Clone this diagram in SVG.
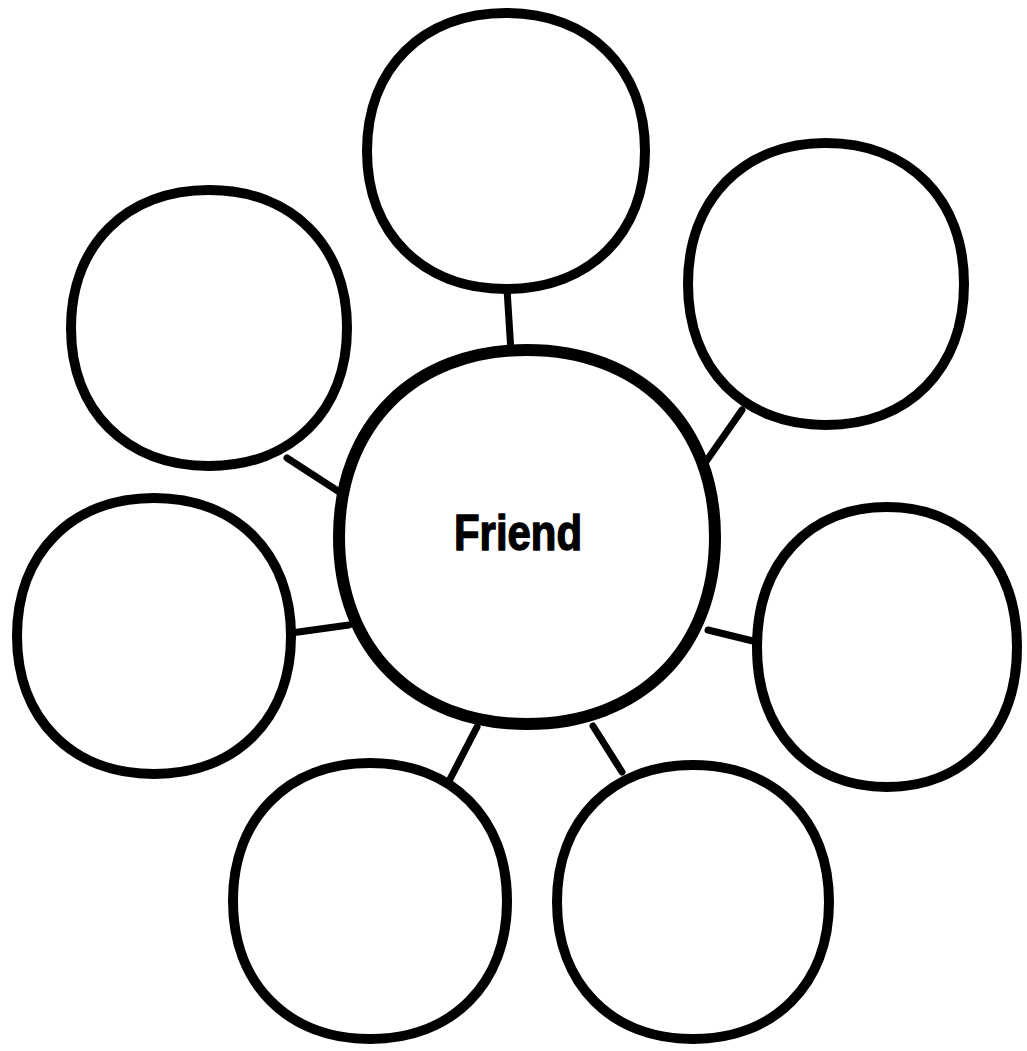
<svg xmlns="http://www.w3.org/2000/svg" width="1027" height="1051" viewBox="0 0 1027 1051">
<style>
.node{fill:#fff;stroke:#000;stroke-width:10;stroke-linejoin:round}
.main{stroke-width:12}
.conn{stroke:#000;stroke-width:7;stroke-linecap:round;fill:none}
.label{font-family:"Liberation Sans",Arial,sans-serif;font-weight:bold;font-size:50px;fill:#000;stroke:#000;stroke-width:1.4;stroke-linejoin:round}
</style>
<rect width="1027" height="1051" fill="#fff"/>
<g id="connectors">
<line class="conn" x1="507" y1="289" x2="511" y2="352"/>
<line class="conn" x1="742" y1="410" x2="705" y2="463"/>
<line class="conn" x1="287" y1="458" x2="344" y2="495"/>
<line class="conn" x1="291" y1="633" x2="349" y2="625"/>
<line class="conn" x1="708" y1="630" x2="757" y2="642"/>
<line class="conn" x1="447" y1="785" x2="477" y2="727"/>
<line class="conn" x1="593" y1="726" x2="622" y2="772"/>
</g>
<g id="node-top"><path class="node" d="M 367 151 C 367 68.2 422.6 13 506 13 C 589.4 13 645 68.2 645 151 C 645 233.8 589.4 289 506 289 C 422.6 289 367 233.8 367 151 Z"/></g>
<g id="node-top-right"><path class="node" d="M 688 284 C 688 199.4 743.2 143 826 143 C 908.8 143 964 199.4 964 284 C 964 368.6 908.8 425 826 425 C 743.2 425 688 368.6 688 284 Z"/></g>
<g id="node-left-top"><path class="node" d="M 71 328 C 71 245.2 126.2 190 209 190 C 291.8 190 347 245.2 347 328 C 347 410.8 291.8 466 209 466 C 126.2 466 71 410.8 71 328 Z"/></g>
<g id="node-left"><path class="node" d="M 17 636 C 17 553.2 71.8 498 154 498 C 236.2 498 291 553.2 291 636 C 291 718.8 236.2 774 154 774 C 71.8 774 17 718.8 17 636 Z"/></g>
<g id="node-right"><path class="node" d="M 757 647 C 757 563 809 507 887 507 C 965 507 1017 563 1017 647 C 1017 731 965 787 887 787 C 809 787 757 731 757 647 Z"/></g>
<g id="node-bottom-left"><path class="node" d="M 233 901 C 233 818.2 287.8 763 370 763 C 452.2 763 507 818.2 507 901 C 507 983.8 452.2 1039 370 1039 C 287.8 1039 233 983.8 233 901 Z"/></g>
<g id="node-bottom-right"><path class="node" d="M 557 902 C 557 819.8 611.4 765 693 765 C 774.6 765 829 819.8 829 902 C 829 984.2 774.6 1039 693 1039 C 611.4 1039 557 984.2 557 902 Z"/></g>
<g id="node-center">
<path class="node main" d="M 339 537 C 339 424.8 414.2 350 527 350 C 639.8 350 715 424.8 715 537 C 715 649.2 639.8 724 527 724 C 414.2 724 339 649.2 339 537 Z"/>
<text class="label" x="454" y="550" textLength="128" lengthAdjust="spacingAndGlyphs">Friend</text>
</g>
</svg>
